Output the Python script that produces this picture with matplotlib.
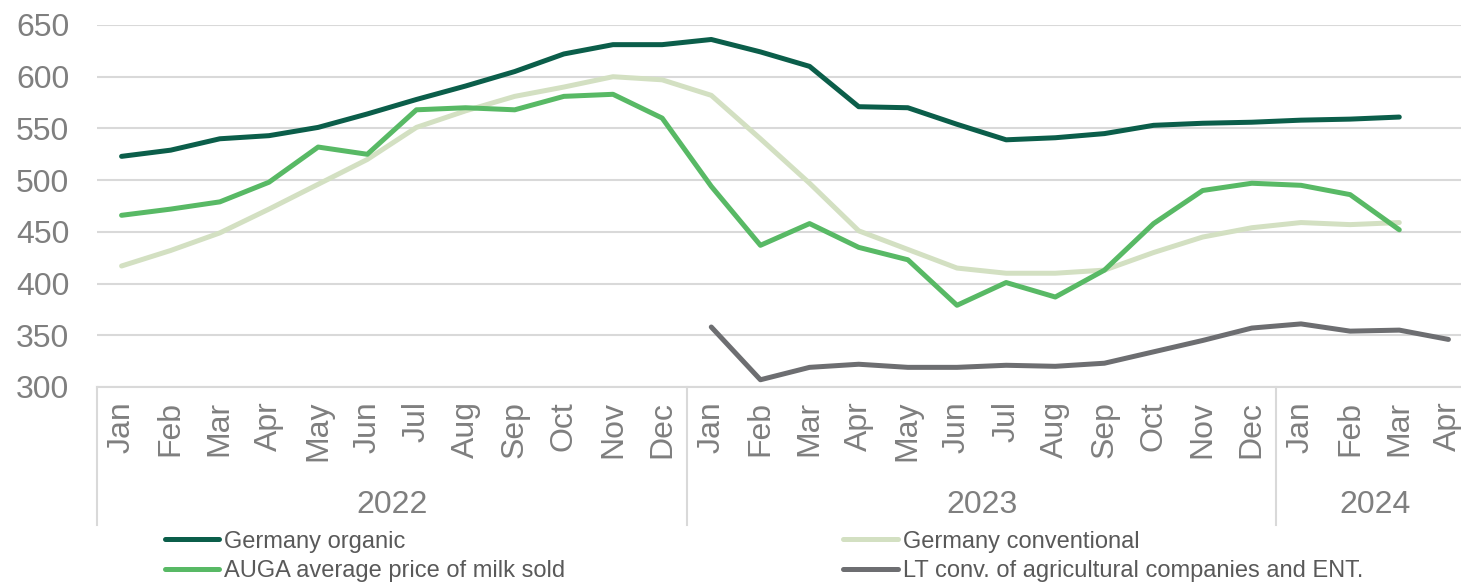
"""Milk purchase prices: Germany organic / conventional, AUGA and LT, 2022-2024."""

import matplotlib
matplotlib.use("Agg")
import matplotlib.pyplot as plt
import matplotlib.transforms as mtransforms
import numpy as np

plt.rcParams["font.family"] = ["Liberation Sans", "DejaVu Sans"]

months = ["Jan", "Feb", "Mar", "Apr", "May", "Jun", "Jul", "Aug", "Sep", "Oct", "Nov", "Dec",
          "Jan", "Feb", "Mar", "Apr", "May", "Jun", "Jul", "Aug", "Sep", "Oct", "Nov", "Dec",
          "Jan", "Feb", "Mar", "Apr"]
years = ["2022", "2023", "2024"]
year_lengths = [12, 12, 4]

nan = np.nan
germany_organic = [523, 529, 540, 543, 551, 564, 578, 591, 605, 622, 631, 631,
                   636, 624, 610, 571, 570, 554, 539, 541, 545, 553, 555, 556,
                   558, 559, 561, nan]
germany_conventional = [417, 432, 449, 472, 496, 520, 551, 567, 581, 590, 600, 597,
                        582, 540, 497, 451, 433, 415, 410, 410, 413, 430, 445, 454,
                        459, 457, 459, nan]
auga_price = [466, 472, 479, 498, 532, 525, 568, 570, 568, 581, 583, 560,
              494, 437, 458, 435, 423, 379, 401, 387, 413, 458, 490, 497,
              495, 486, 452, nan]
lt_conventional = [nan] * 12 + [358, 307, 319, 322, 319, 319, 321, 320, 323, 334, 345, 357,
                                361, 354, 355, 346]

W, H = 1461, 585
fig = plt.figure(figsize=(W / 100, H / 100), dpi=100)
left, right, top, bottom = 97, 1473, 25, 387
ax = fig.add_axes([left / W, 1 - bottom / H, (right - left) / W, (bottom - top) / H])

x = np.arange(len(months))
grid_c = "#d9d9d9"
tick_c = "#7f7f7f"

l_org, = ax.plot(x, germany_organic, color="#0b5e4a", lw=3.6, solid_capstyle="round", zorder=3)
l_conv, = ax.plot(x, germany_conventional, color="#d3e0c2", lw=3.6, solid_capstyle="round", zorder=3)
l_auga, = ax.plot(x, auga_price, color="#58b965", lw=3.6, solid_capstyle="round", zorder=4)
l_lt, = ax.plot(x, lt_conventional, color="#6d6e71", lw=3.6, solid_capstyle="round", zorder=4)

ax.set_xlim(-0.5, len(months) - 0.5)
ax.set_ylim(300, 650)
ax.set_yticks(np.arange(300, 651, 50))
ax.yaxis.grid(True, color=grid_c, lw=1.5)
ax.set_axisbelow(True)
for side in ("top", "right", "left"):
    ax.spines[side].set_visible(False)
ax.spines["bottom"].set_color(grid_c)
ax.spines["bottom"].set_linewidth(1.5)

ax.set_xticks(x)
ax.set_xticklabels(months, rotation=90, fontsize=23, color=tick_c, va="top")
ax.tick_params(axis="x", length=0, pad=10)
ax.tick_params(axis="y", length=0, labelsize=23, labelcolor=tick_c, pad=20)

# two-level category axis: year labels and separators
trans = mtransforms.blended_transform_factory(ax.transData, ax.transAxes)
axis_h = bottom - top
sep_bottom = -(525 - bottom) / axis_h
year_y = -(505 - bottom) / axis_h
start = 0
bounds = [-0.5]
for yr, n in zip(years, year_lengths):
    ax.text(start + (n - 1) / 2, year_y, yr, transform=trans, ha="center", va="center",
            fontsize=23, color=tick_c)
    start += n
    bounds.append(start - 0.5)
for b in bounds:
    ax.plot([b, b], [0, sep_bottom], transform=trans, color=grid_c, lw=1.5, clip_on=False)

fig.legend([l_org, l_auga, l_conv, l_lt],
           ["Germany organic", "AUGA average price of milk sold",
            "Germany conventional", "LT conv. of agricultural companies and ENT."],
           ncol=2, loc="upper left", bbox_to_anchor=(160 / W, 1 - 526 / H),
           frameon=False, fontsize=17, labelcolor="#595959",
           handlelength=2.3, handletextpad=0.2, columnspacing=11.8,
           labelspacing=0.3, borderpad=0.2, borderaxespad=0)

fig.savefig("out.png", dpi=100)
